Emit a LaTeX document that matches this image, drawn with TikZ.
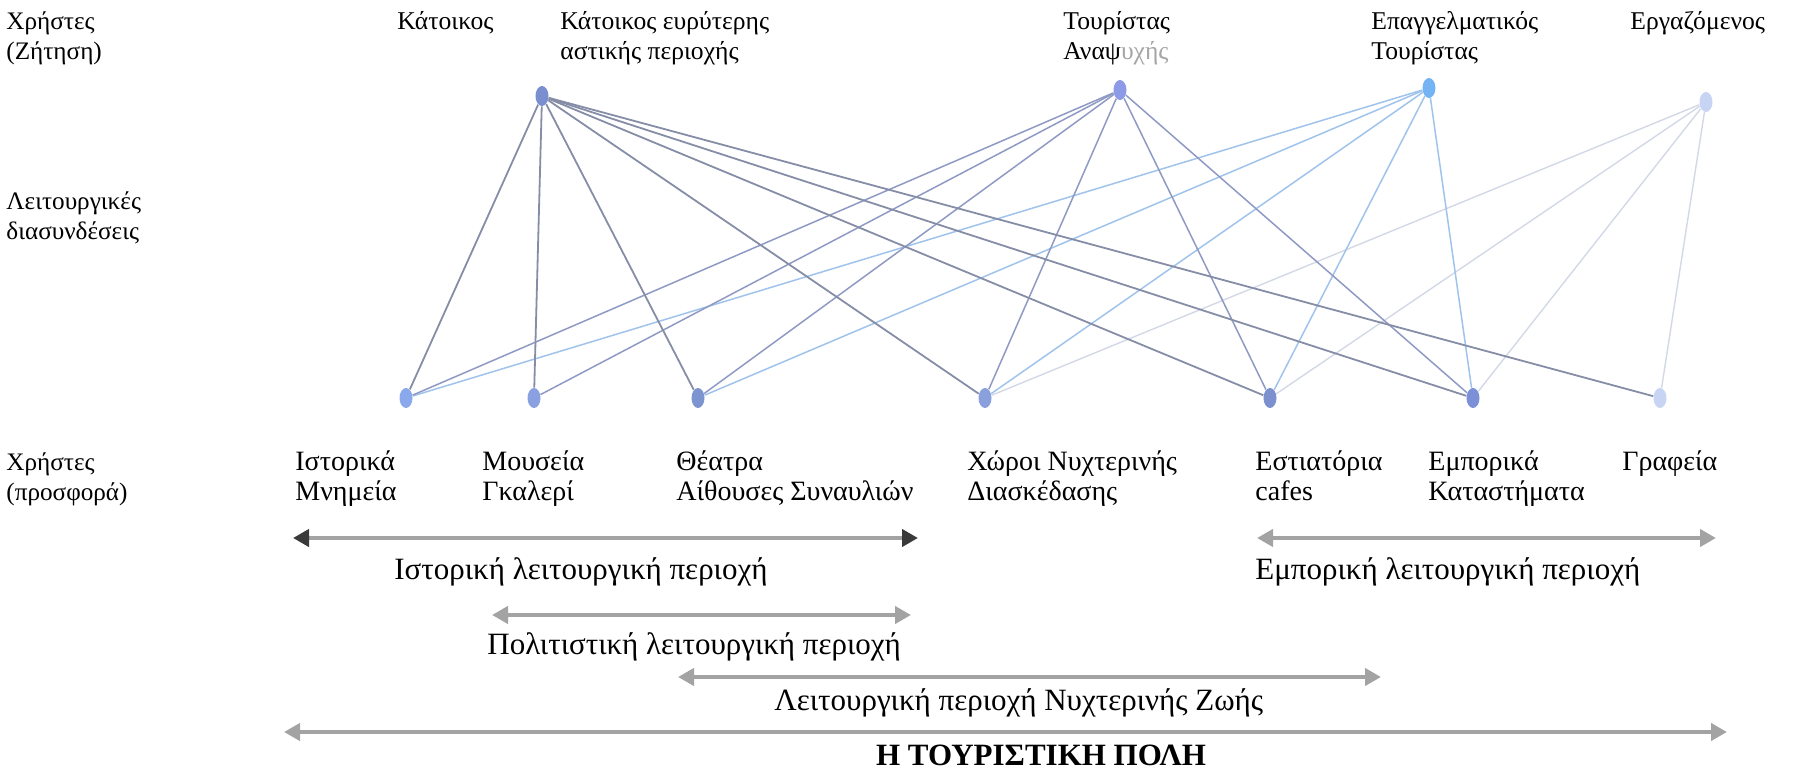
\documentclass[tikz,border=0pt]{standalone}
\usepackage{fontspec}
\setmainfont{Liberation Serif}
\usetikzlibrary{arrows.meta,shapes.geometric}
\definecolor{kcol}{HTML}{868DA6}
\definecolor{tcol}{HTML}{8F9AC4}
\definecolor{ecol}{HTML}{A0C3EC}
\definecolor{wcol}{HTML}{D3D8E6}
\definecolor{bandgrey}{HTML}{A3A3A3}
\definecolor{headdark}{HTML}{3A3A3A}
\definecolor{dk}{HTML}{7B8FD0}
\definecolor{dt}{HTML}{8C9AE8}
\definecolor{de}{HTML}{74B4F4}
\definecolor{dw}{HTML}{C8D4F4}
\definecolor{db1}{HTML}{8AA8EC}
\definecolor{db2}{HTML}{8AA0E0}
\definecolor{db3}{HTML}{7C94D0}
\definecolor{db4}{HTML}{8AA0DC}
\definecolor{db5}{HTML}{7C90D0}
\definecolor{db6}{HTML}{7C90D8}
\definecolor{db7}{HTML}{C8D4F4}
\begin{document}
\begin{tikzpicture}[x=0.5pt,y=-0.5pt,
  txt/.style={anchor=base west, inner sep=0pt, align=left, font=\fontsize{14}{15}\selectfont},
  toptxt/.style={txt, font=\fontsize{12.8}{15}\selectfont},
  lefttxt/.style={txt, font=\fontsize{12.6}{15}\selectfont},
  rlab/.style={anchor=base west, inner sep=0pt, font=\fontsize{15.5}{16}\selectfont},
  dot/.style={ellipse, inner sep=0pt, minimum width=6.5pt, minimum height=10pt, draw=none},
  ek/.style={draw=kcol, line width=0.9pt},
  et/.style={draw=tcol, line width=0.75pt},
  ee/.style={draw=ecol, line width=0.75pt},
  ew/.style={draw=wcol, line width=0.7pt},
  band/.style={draw=bandgrey, line width=2.2pt,
    {Triangle[length=8pt,width=8.5pt]}-{Triangle[length=8pt,width=8.5pt]}},
  banddark/.style={draw=bandgrey, line width=2.2pt,
    {Triangle[length=8pt,width=8.5pt,color=headdark]}-{Triangle[length=8pt,width=8.5pt,color=headdark]}}
]
\useasboundingbox (0,0) rectangle (1817,771);

% top (demand) dots
\node[dot, fill=dk] (k2) at (542,96) {};
\node[dot, fill=dt] (t) at (1120,90) {};
\node[dot, fill=de] (e) at (1429,88) {};
\node[dot, fill=dw] (w) at (1706,102) {};

% bottom (supply) dots
\node[dot, fill=db1] (b1) at (406,398) {};
\node[dot, fill=db2] (b2) at (534,398) {};
\node[dot, fill=db3] (b3) at (698,398) {};
\node[dot, fill=db4] (b4) at (985,398) {};
\node[dot, fill=db5] (b5) at (1270,398) {};
\node[dot, fill=db6] (b6) at (1473,398) {};
\node[dot, fill=db7] (b7) at (1660,398) {};

% connections
\foreach \b in {b4,b5,b6,b7} \draw[ew] (w) -- (\b);
\foreach \b in {b1,b3,b4,b5,b6} \draw[ee] (e) -- (\b);
\foreach \b in {b1,b2,b3,b4,b5,b6} \draw[et] (t) -- (\b);
\foreach \b in {b1,b2,b3,b4,b5,b6,b7} \draw[ek] (k2) -- (\b);

% left column labels (y = baseline of last line)
\node[lefttxt] (lz) at (6,60) {Χρήστες\\(Ζήτηση)};
\node[lefttxt] (ll) at (6,239) {Λειτουργικές\\διασυνδέσεις};
\node[lefttxt] (lp) at (6,500) {Χρήστες\\(προσφορά)};

% top labels
\node[toptxt] (lk1) at (397,30) {Κάτοικος};
\node[toptxt] (lk2) at (560,60) {Κάτοικος ευρύτερης\\αστικής περιοχής};
\node[toptxt] (lt) at (1063,60) {Τουρίστας\\Αναψ\textcolor{black!35}{υχής}};
\node[toptxt] (le) at (1371,60) {Επαγγελματικός\\Τουρίστας};
\node[toptxt] (lw) at (1630,30) {Εργαζόμενος};

% bottom labels
\node[txt] (lb1) at (295,500) {Ιστορικά\\Μνημεία};
\node[txt] (lb2) at (482,500) {Μουσεία\\Γκαλερί};
\node[txt] (lb3) at (676,500) {Θέατρα\\Αίθουσες Συναυλιών};
\node[txt] (lb4) at (967,500) {Χώροι Νυχτερινής\\Διασκέδασης};
\node[txt] (lb5) at (1255,500) {Εστιατόρια\\cafes};
\node[txt] (lb6) at (1428,500) {Εμπορικά\\Καταστήματα};
\node[txt] (lb7) at (1622,470) {Γραφεία};

% range arrows
\coordinate (a1l) at (293,538);  \coordinate (a1r) at (918,538);
\coordinate (a2l) at (1257,538); \coordinate (a2r) at (1716,538);
\coordinate (a3l) at (492,615);  \coordinate (a3r) at (911,615);
\coordinate (a4l) at (678,677);  \coordinate (a4r) at (1381,677);
\coordinate (a5l) at (284,732);  \coordinate (a5r) at (1727,732);
\draw[banddark] (a1l) -- (a1r);
\draw[band] (a2l) -- (a2r);
\draw[band] (a3l) -- (a3r);
\draw[band] (a4l) -- (a4r);
\draw[band] (a5l) -- (a5r);

\node[rlab] (r1) at (394,579) {Ιστορική λειτουργική περιοχή};
\node[rlab] (r2) at (1255,579) {Εμπορική λειτουργική περιοχή};
\node[rlab] (r3) at (487,654) {Πολιτιστική λειτουργική περιοχή};
\node[rlab] (r4) at (774,710) {Λειτουργική περιοχή Νυχτερινής Ζωής};
\node[rlab, anchor=base] (r5) at (1041,765) {\bfseries Η ΤΟΥΡΙΣΤΙΚΗ ΠΟΛΗ};
\end{tikzpicture}
\end{document}
